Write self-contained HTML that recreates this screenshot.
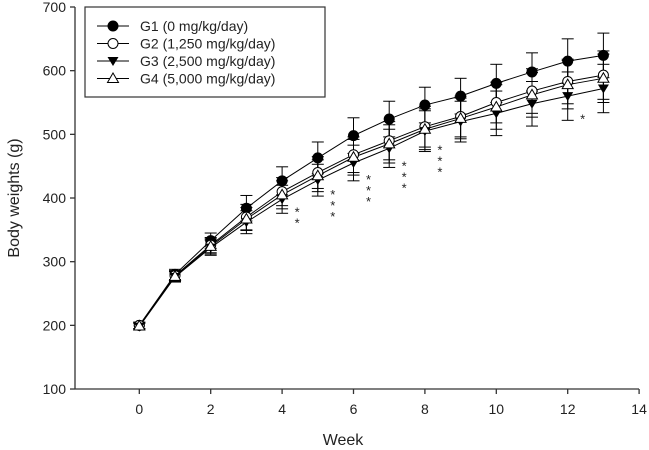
<!DOCTYPE html>
<html><head><meta charset="utf-8"><style>
body{margin:0;background:#fff;}
svg{display:block;font-family:"Liberation Sans",Arial,sans-serif;}
</style></head><body>
<svg id="chart" width="649" height="450">
<g id="axes"></g><g id="series"></g><g id="legend"></g>
</svg>
<script>
const weeks=[0,1,2,3,4,5,6,7,8,9,10,11,12,13];
const g1=[200,280,333,384,427,463,498,524,546,560,580,598,615,624];
const g2=[200,278,326,370,410,440,468,490,512,528,550,568,583,593];
const g3=[198,276,322,362,398,428,455,478,505,520,533,548,560,572];
const g4=[199,277,324,367,405,435,464,485,508,525,543,562,578,588];
const g1Err=[5,8,12,20,22,25,28,28,28,28,30,30,35,35];
const g2Err=[5,8,12,20,22,25,28,30,32,32,32,35,35,38];
const g3Err=[5,8,12,18,22,25,28,30,32,32,35,35,38,38];
const g4Err=[5,8,12,18,22,25,28,30,32,32,35,35,38,38];
const starCounts=[0,0,0,0,2,3,3,3,3,0,0,0,1,0];
const xTicks=[0,2,4,6,8,10,12,14];
const yTicks=[100,200,300,400,500,600,700];
const legendLabels=["G1 (0 mg/kg/day)","G2 (1,250 mg/kg/day)","G3 (2,500 mg/kg/day)","G4 (5,000 mg/kg/day)"];

const NS="http://www.w3.org/2000/svg";
const X=w=>139.3+35.7*w;
const Y=v=>7+(700-v)*0.6367;
function mk(tag,attrs,parent){const e=document.createElementNS(NS,tag);for(const k in attrs)e.setAttribute(k,attrs[k]);parent.appendChild(e);return e;}
const axes=document.getElementById('axes'),ser=document.getElementById('series'),leg=document.getElementById('legend');

let a=mk('line',{x1:75,y1:Y(100),x2:639,y2:Y(100),stroke:'#333','stroke-width':1.3},axes);


a=mk('line',{x1:75,y1:Y(700),x2:75,y2:Y(100),stroke:'#333','stroke-width':1.3},axes);


xTicks.forEach(t=>{
 mk('line',{x1:X(t),y1:Y(100),x2:X(t),y2:Y(100)+5,stroke:'#333','stroke-width':1.3},axes);
 const tx=mk('text',{x:X(t),y:414,'text-anchor':'middle','font-size':14,fill:'#222'},axes);tx.textContent=t;
 
 
});
yTicks.forEach(t=>{
 mk('line',{x1:70,y1:Y(t),x2:75,y2:Y(t),stroke:'#333','stroke-width':1.3},axes);
 const tx=mk('text',{x:66,y:Y(t)+5,'text-anchor':'end','font-size':14,fill:'#222'},axes);tx.textContent=t;
 
 
});
let t=mk('text',{x:343,y:445,'text-anchor':'middle','font-size':16,fill:'#222'},axes);t.textContent='Week';


t=mk('text',{x:0,y:0,transform:'translate(19,198) rotate(-90)','text-anchor':'middle','font-size':16,fill:'#222'},axes);t.textContent='Body weights (g)';



function marker(type,cx,cy,parent){
 let m;
 if(type==0)m=mk('circle',{cx,cy,r:5,fill:'#000',stroke:'#000'},parent);
 else if(type==1)m=mk('circle',{cx,cy,r:5,fill:'#fff',stroke:'#000','stroke-width':1}, parent);
 else if(type==2)m=mk('polygon',{points:`${cx-5.5},${cy-4} ${cx+5.5},${cy-4} ${cx},${cy+5}`,fill:'#000'},parent);
 else m=mk('polygon',{points:`${cx-5.5},${cy+4} ${cx+5.5},${cy+4} ${cx},${cy-5.5}`,fill:'#fff',stroke:'#000','stroke-width':1},parent);
 return m;
}
const all=[[g1,g1Err],[g2,g2Err],[g3,g3Err],[g4,g4Err]];
const names=['g1','g2','g3','g4'];
all.forEach(([d,e],si)=>{
 const g=mk('g',{},ser);
 
 
 weeks.forEach((w,i)=>{
  const x=X(w);
  mk('line',{x1:x,y1:Y(d[i]+e[i]),x2:x,y2:Y(d[i]-e[i]),stroke:'#000','stroke-width':1},g);
  mk('line',{x1:x-6,y1:Y(d[i]+e[i]),x2:x+6,y2:Y(d[i]+e[i]),stroke:'#000','stroke-width':1},g);
  mk('line',{x1:x-6,y1:Y(d[i]-e[i]),x2:x+6,y2:Y(d[i]-e[i]),stroke:'#000','stroke-width':1},g);
 });
 mk('polyline',{points:weeks.map((w,i)=>X(w)+','+Y(d[i])).join(' '),fill:'none',stroke:'#000','stroke-width':1},g);
});
all.forEach(([d],si)=>{
 weeks.forEach((w,i)=>{const m=marker(si,X(w),Y(d[i]),ser);
  
  });
});
weeks.forEach((w,i)=>{
 for(let k=0;k<starCounts[i];k++){
  const s=mk('text',{x:X(w)+15,y:Y(g3[i]-g3Err[i])+3+k*11,'text-anchor':'middle','font-size':13,fill:'#222'},ser);
  s.textContent='*';
  
  
 }
});
const lb=mk('rect',{x:85,y:7,width:240,height:90,fill:'#fff',stroke:'#333','stroke-width':1.2},leg);


legendLabels.forEach((lab,i)=>{
 const y=26+i*17.5;
 const g=mk('g',{},leg);
 
 
 mk('line',{x1:97,y1:y,x2:129,y2:y,stroke:'#000','stroke-width':1},g);
 marker(i,113,y,g);
 const tx=mk('text',{x:140,y:y+5,'font-size':14,fill:'#222'},g);tx.textContent=lab;
});
</script>
</body></html>
